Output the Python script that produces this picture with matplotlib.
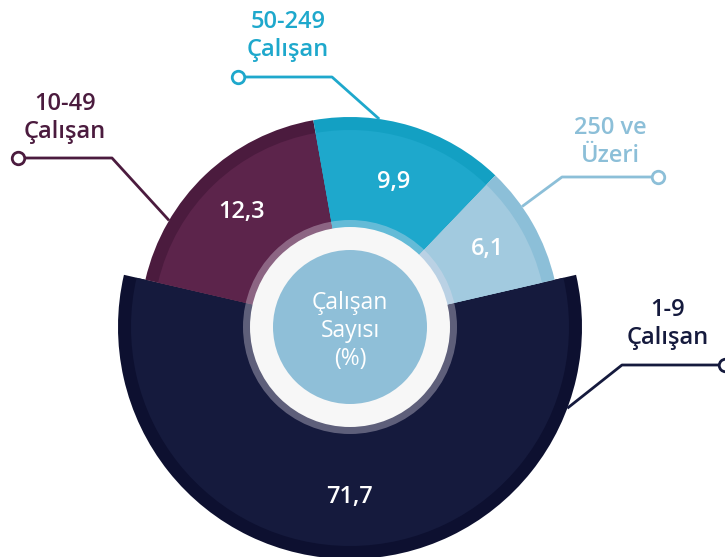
import numpy as np
import matplotlib
matplotlib.use("Agg")
import matplotlib.pyplot as plt
from matplotlib.patches import Wedge, Circle

# veriler
labels = ["1-9\nÇalışan", "10-49\nÇalışan", "50-249\nÇalışan", "250 ve\nÜzeri"]
values = [71.7, 12.3, 9.9, 6.1]
center_text = "Çalışan\nSayısı\n(%)"

# renkler (ana, dış kenar)
colors = ["#151a3d", "#5c244b", "#1ea8cc", "#a2cadf"]
rim_colors = ["#0d1030", "#4b1b3e", "#13a0c3", "#8cbfd8"]
label_colors = ["#151a3d", "#4b1b3e", "#1ea8cc", "#8cbfd8"]

plt.rcParams['font.family'] = ['Open Sans', 'DejaVu Sans']

fig = plt.figure(figsize=(7.25, 5.57), dpi=100)
ax = fig.add_axes([0, 0, 1, 1])
ax.set_xlim(0, 725)
ax.set_ylim(0, 557)
ax.set_aspect('equal')
ax.axis('off')

cx, cy = 350, 230
big_sweep = 206          # büyük dilimin açısı (tasarım)
top_sweep = 360 - big_sweep
outer = [232, 210, 210, 210]
rim_w = 13

# açılar: büyük dilim altta ortalı, diğerleri üstte değerlerine göre
small_total = sum(values[1:])
angles = []
start = 270 - big_sweep / 2
angles.append((start, start + big_sweep))
a = start
for v in values[1:]:
    w = top_sweep * v / small_total
    angles.append((a - w, a))
    a -= w

for i in range(len(values)):
    t1, t2 = angles[i]
    ax.add_patch(Wedge((cx, cy), outer[i], t1, t2, color=rim_colors[i], lw=0))
    ax.add_patch(Wedge((cx, cy), outer[i] - rim_w, t1, t2, color=colors[i], lw=0))

# orta halka
ax.add_patch(Circle((cx, cy), 107, color='#e8e0ee', alpha=0.35, lw=0))
ax.add_patch(Circle((cx, cy), 100, color='#f7f7f7', lw=0))
ax.add_patch(Circle((cx, cy), 77, color='#8fbfd8', lw=0))
ax.text(cx, cy - 4, center_text, ha='center', va='center', color='white',
        fontsize=16.5, fontweight='normal', linespacing=1.2)

# değer etiketleri
label_r = [170, 158, 152, 158]
for i, v in enumerate(values):
    t1, t2 = angles[i]
    mid = np.radians((t1 + t2) / 2)
    ax.text(cx + label_r[i] * np.cos(mid), cy + label_r[i] * np.sin(mid),
            f"{v:.1f}".replace(".", ","), ha='center', va='center',
            color='white', fontsize=17, fontweight='semibold')

# dış etiketler ve çizgiler
text_pos = [(668, 233), (65, 439), (288, 521), (610, 415)]
dot_pos = [(725, 192), (18, 399), (238, 480), (658, 380)]
knee_x = [622, 112, 332, 562]
anchor_ang = [-20.5, 149.5, 82, 35]

for i in range(len(values)):
    col = label_colors[i]
    ax.text(text_pos[i][0], text_pos[i][1], labels[i], ha='center', va='center',
            color=col, fontsize=17, fontweight='semibold', linespacing=1.25)
    ang = np.radians(anchor_ang[i])
    ex = cx + outer[i] * np.cos(ang)
    ey = cy + outer[i] * np.sin(ang)
    dx, dy = dot_pos[i]
    ax.plot([dx, knee_x[i], ex], [dy, dy, ey], color=col, lw=2,
            solid_capstyle='butt', zorder=1)
    ax.plot([dx], [dy], 'o', ms=9, mfc='white', mec=col, mew=2, zorder=3)

fig.savefig("out.png", dpi=100)
